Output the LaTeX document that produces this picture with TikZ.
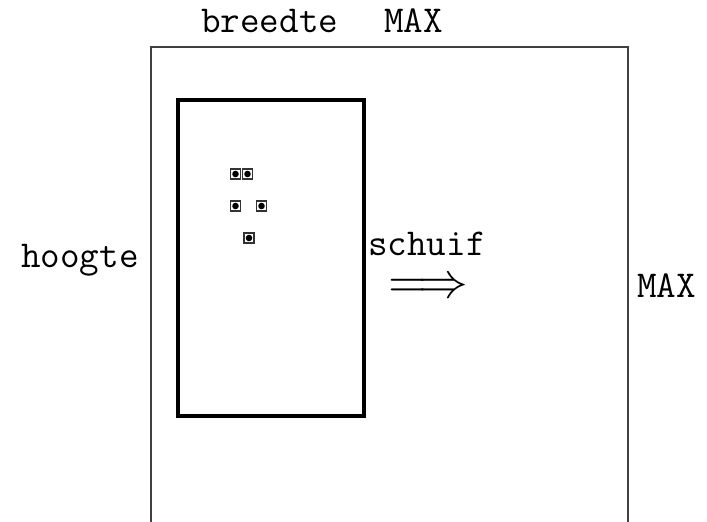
\documentclass[tikz,border=0pt]{standalone}
\begin{document}
\begin{tikzpicture}[x=1pt,y=-1pt,
  lbl/.style={inner sep=0pt, anchor=base west, font=\fontsize{38}{46}\selectfont\ttfamily},
  frame/.style={line width=1.4pt, black!75},
  tray/.style={line width=4pt, black},
  pinsq/.style={draw=black!80, line width=1.2pt, minimum size=10pt, inner sep=0pt,
    path picture={\fill[black] (path picture bounding box.center) circle (3.3pt);}}]
\useasboundingbox (0,0) rectangle (707,522);
% outer (open-bottom) frame
\coordinate (ob1) at (151,522);
\coordinate (ot1) at (151,47);
\coordinate (ot2) at (628,47);
\coordinate (ob2) at (628,522);
\draw[frame] (ob1) -- (ot1) -- (ot2) -- (ob2);
% inner rectangle
\node[tray, draw, minimum width=186pt, minimum height=316pt, inner sep=0pt] (inner) at (271,257.5) {};
% pins
\node[pinsq] (p1) at (235.5,174) {};
\node[pinsq] (p2) at (247.5,174) {};
\node[pinsq] (p3) at (235.5,206) {};
\node[pinsq] (p4) at (261.5,206) {};
\node[pinsq] (p5) at (249,238) {};
% labels
\node[lbl] (breedte) at (201,32) {breedte};
\node[lbl] (maxtop) at (384,32) {MAX};
\node[lbl] (hoogte) at (21,267) {hoogte};
\node[lbl] (maxright) at (637,297) {MAX};
\node[lbl] (schuif) at (368,255) {schuif};
\node[inner sep=0pt] (arrow) at (428,288.5) {\resizebox{80pt}{!}{$\Longrightarrow$}};
\end{tikzpicture}
\end{document}
